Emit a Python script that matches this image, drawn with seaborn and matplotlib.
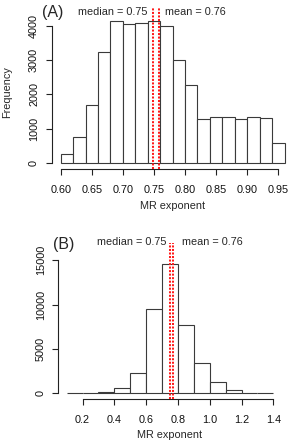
import matplotlib
matplotlib.use("Agg")
import matplotlib.pyplot as plt
import seaborn as sns

# ---------------- data ----------------
a_edges = [0.60, 0.62, 0.64, 0.66, 0.68, 0.70, 0.72, 0.74, 0.76, 0.78,
           0.80, 0.82, 0.84, 0.86, 0.88, 0.90, 0.92, 0.94, 0.96]
a_counts = [281, 775, 1705, 3225, 4126, 4039, 4087, 4145, 4000,
            2993, 2276, 1278, 1356, 1356, 1278, 1337, 1327, 581]
a_median = 0.749
a_mean = 0.758
a_xticks = [0.60, 0.65, 0.70, 0.75, 0.80, 0.85, 0.90, 0.95]
a_xticklabels = ["0.60", "0.65", "0.70", "0.75", "0.80", "0.85", "0.90", "0.95"]
a_yticks = [0, 1000, 2000, 3000, 4000]
a_yticklabels = ["0", "1000", "2000", "3000", "4000"]

b_edges = [0.1, 0.2, 0.3, 0.4, 0.5, 0.6, 0.7, 0.8, 0.9, 1.0, 1.1, 1.2, 1.3, 1.4]
b_counts = [0, 10, 113, 601, 2331, 9549, 14624, 7669, 3421, 1316, 414, 75, 10]
b_median = 0.748
b_mean = 0.771
b_xticks = [0.2, 0.4, 0.6, 0.8, 1.0, 1.2, 1.4]
b_xticklabels = ["0.2", "0.4", "0.6", "0.8", "1.0", "1.2", "1.4"]
b_yticks = [0, 5000, 10000, 15000]
b_yticklabels = ["0", "5000", "10000", "15000"]

median_label_a = "median = 0.75"
mean_label_a = "mean = 0.76"
median_label_b = "median = 0.75"
mean_label_b = "mean = 0.76"
xlabel = "MR exponent"
ylabel = "Frequency"

# ---------------- style ----------------
sns.set_style("ticks")
plt.rcParams["font.family"] = ["Liberation Sans", "DejaVu Sans"]
FS = 7.8
AXC = "#222222"
BARC = "#3a3a3a"

W, H = 289, 445
fig = plt.figure(figsize=(W / 100, H / 100), dpi=100)


def px_axes(left, top, right, bottom):
    return fig.add_axes([left / W, 1 - bottom / H, (right - left) / W, (bottom - top) / H])


def panel(ax, edges, counts, med, mean, xticks, xtl, yticks, ytl,
          med_lab, mean_lab, text_y, line_top, med_off, mean_off,
          xlab_y, show_ylabel):
    centers = [(edges[i] + edges[i + 1]) / 2 for i in range(len(counts))]
    sns.histplot(x=centers, weights=counts, bins=edges, ax=ax,
                 color="white", edgecolor=BARC, linewidth=0.8, alpha=1)
    span = edges[-1] - edges[0]
    ymax = max(counts)
    ax.set_xlim(edges[0] - 0.04 * span, edges[-1] + 0.04 * span)
    ax.set_ylim(-0.04 * ymax, 1.04 * ymax)

    for v in (med, mean):
        ax.axvline(v, ymin=0, ymax=line_top, color="#ff1a1a", lw=1.45,
                   linestyle=(0, (1, 0.75)), clip_on=False, zorder=5)

    ax.annotate(med_lab, xy=(med, text_y), xycoords=("data", "axes fraction"),
                xytext=(med_off, 0), textcoords="offset points",
                ha="right", va="center", fontsize=FS, annotation_clip=False)
    ax.annotate(mean_lab, xy=(mean, text_y), xycoords=("data", "axes fraction"),
                xytext=(mean_off, 0), textcoords="offset points",
                ha="left", va="center", fontsize=FS, annotation_clip=False)

    for s in ("top", "right"):
        ax.spines[s].set_visible(False)
    ax.spines["left"].set_bounds(yticks[0], yticks[-1])
    ax.spines["bottom"].set_bounds(xticks[0], xticks[-1])
    for s in ("left", "bottom"):
        ax.spines[s].set_color(AXC)
        ax.spines[s].set_linewidth(0.8)

    ax.set_xticks(xticks)
    ax.set_xticklabels(xtl, fontsize=FS)
    ax.set_yticks(yticks)
    ax.set_yticklabels(ytl, fontsize=FS, rotation=90, va="center")
    ax.tick_params(axis="both", direction="out", length=4.1, width=0.8,
                   color=AXC, labelcolor="#111111")
    ax.tick_params(axis="x", pad=7.5)
    ax.tick_params(axis="y", pad=5)

    ax.set_xlabel(xlabel, fontsize=FS, va="center")
    ax.xaxis.set_label_coords(0.5, xlab_y)
    if show_ylabel:
        ax.set_ylabel(ylabel, fontsize=FS, va="center")
        ax.yaxis.set_label_coords(-0.186, 0.5)
    else:
        ax.set_ylabel("")


# Panel A
axA = px_axes(51.7, 15.0, 293.5, 169.0)
panel(axA, a_edges, a_counts, a_median, a_mean, a_xticks, a_xticklabels,
      a_yticks, a_yticklabels, median_label_a, mean_label_a,
      text_y=1.019, line_top=1.054, med_off=-4.0, mean_off=4.6,
      xlab_y=-0.240, show_ylabel=True)

# Panel B
axB = px_axes(58.4, 258.4, 281.6, 398.5)
panel(axB, b_edges, b_counts, b_median, b_mean, b_xticks, b_xticklabels,
      b_yticks, b_yticklabels, median_label_b, mean_label_b,
      text_y=1.119, line_top=1.108, med_off=-2.6, mean_off=6.0,
      xlab_y=-0.264, show_ylabel=False)

fig.text(42 / W, 1 - 12.7 / H, "(A)", fontsize=11.5, ha="left", va="center")
fig.text(52.7 / W, 1 - 245 / H, "(B)", fontsize=11.5, ha="left", va="center")

fig.savefig("out.png", dpi=100, facecolor="white")
